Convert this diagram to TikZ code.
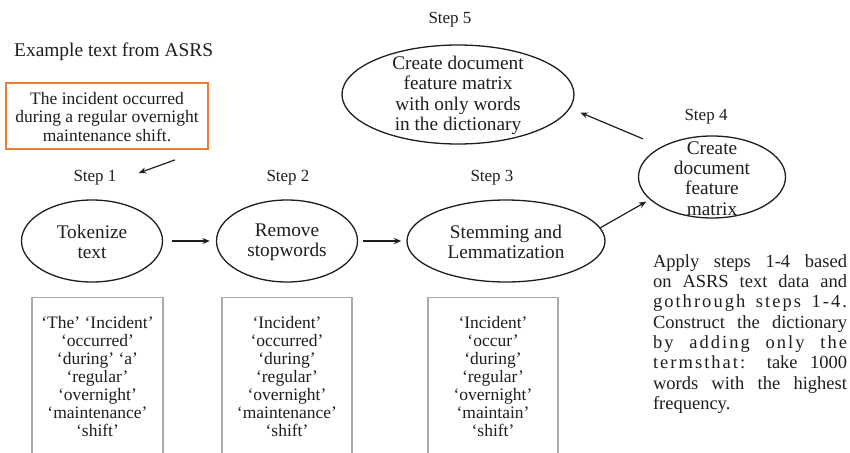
\documentclass[tikz,border=0pt]{standalone}
\usepackage{fontspec}
\setmainfont{Liberation Serif}
\usetikzlibrary{shapes.geometric,arrows.meta,calc}
\definecolor{ink}{HTML}{1E1E1E}
\definecolor{orangeb}{HTML}{ED7D31}
\definecolor{greyb}{HTML}{ABABAB}
\newcommand\jline[1]{\makebox[194pt][s]{#1}}
\newcommand\spaced[1]{{\addfontfeature{LetterSpace=11}#1}}
\begin{document}
\begin{tikzpicture}[x=1pt,y=-1pt,
  ell/.style={draw=ink, line width=1.3pt, ellipse, inner sep=0pt},
  etext/.style={text=ink, align=center, font=\fontsize{19.3}{20.3}\selectfont, inner sep=0pt},
  steplbl/.style={text=ink, font=\fontsize{17}{20}\selectfont, inner sep=0pt},
  arr/.style={draw=ink, line width=1.2pt, -{Stealth[length=7.5pt,width=6pt]}},
  gbox/.style={draw=greyb, line width=1.4pt, inner sep=0pt, anchor=north},
  btext/.style={text=ink, align=center, font=\fontsize{17.5}{18}\selectfont, inner sep=0pt},
  ptext/.style={text=ink, align=left, font=\fontsize{18.5}{20.3}\selectfont, inner sep=0pt}]
\useasboundingbox (0,0) rectangle (850,452);

% title label and example box
\node[text=ink, font=\fontsize{19.4}{20}\selectfont, inner sep=0pt, anchor=west] (extitle) at (14,52) {Example text from ASRS};
\node[draw=orangeb, line width=1.8pt, minimum width=202pt, minimum height=66pt, inner sep=0pt] (ex) at (107,116) {};
\node[text=ink, align=center, font=\fontsize{17.5}{18.7}\selectfont, inner sep=0pt] (extext) at (107,117) {The incident occurred\\during a regular overnight\\maintenance shift.};

% step labels
\node[steplbl] (s1) at (95,178) {Step 1};
\node[steplbl] (s2) at (288,178) {Step 2};
\node[steplbl] (s3) at (492,178) {Step 3};
\node[steplbl] (s4) at (706,117) {Step 4};
\node[steplbl] (s5) at (450,20) {Step 5};

% ellipses
\node[ell, minimum width=141pt, minimum height=82pt] (e1) at (92,241) {};
\node[etext] (t1) at (92,242) {Tokenize\\text};
\node[ell, minimum width=141pt, minimum height=82pt] (e2) at (287,241) {};
\node[etext] (t2) at (287,242) {Remove\\stopwords};
\node[ell, minimum width=198pt, minimum height=82pt] (e3) at (506,241) {};
\node[etext] (t3) at (506,242) {Stemming and\\Lemmatization};
\node[ell, minimum width=147pt, minimum height=82pt] (e4) at (712,177) {};
\node[etext] (t4) at (712,178.5) {Create\\document\\feature\\matrix};
\node[ell, minimum width=232pt, minimum height=99pt] (e5) at (458,94.5) {};
\node[etext] (t5) at (458,95.5) {Create document\\feature matrix\\with only words\\in the dictionary};

% arrows
\draw[arr, shorten <=9pt, shorten >=6pt] (e1.east) -- (e2.west);
\draw[arr, shorten <=5pt, shorten >=5pt] (e2.east) -- (e3.west);
\draw[arr, shorten >=4pt] (e3.8) -- (e4.200);
\draw[arr, shorten <=20pt, shorten >=11pt] (e4.149) -- (e5.-7);
\draw[arr] ($(ex.south)+(68,10)$) -- ($(s1.east)+(22,-5)$);

% word boxes
\node[gbox, minimum width=131pt, minimum height=170pt] (b1) at (97.5,297) {};
\node[btext] (bt1) at (97.5,376.5) {‘The’ ‘Incident’\\‘occurred’\\‘during’ ‘a’\\‘regular’\\‘overnight’\\‘maintenance’\\‘shift’};
\node[gbox, minimum width=130pt, minimum height=170pt] (b2) at (287,297) {};
\node[btext] (bt2) at (287,376.5) {‘Incident’\\‘occurred’\\‘during’\\‘regular’\\‘overnight’\\‘maintenance’\\‘shift’};
\node[gbox, minimum width=130pt, minimum height=170pt] (b3) at (493,297) {};
\node[btext] (bt3) at (493,376.5) {‘Incident’\\‘occur’\\‘during’\\‘regular’\\‘overnight’\\‘maintain’\\‘shift’};

% paragraph
\node[ptext] (para) at (750,334) {\jline{Apply steps 1-4 based}\\
\jline{on ASRS text data and}\\
\jline{\spaced{gothrough steps 1-4.}}\\
\jline{Construct the dictionary}\\
\jline{\spaced{by adding only the}}\\
\jline{\spaced{termsthat:} take 1000}\\
\jline{words with the highest}\\
\makebox[194pt][l]{frequency.}};
\end{tikzpicture}
\end{document}
